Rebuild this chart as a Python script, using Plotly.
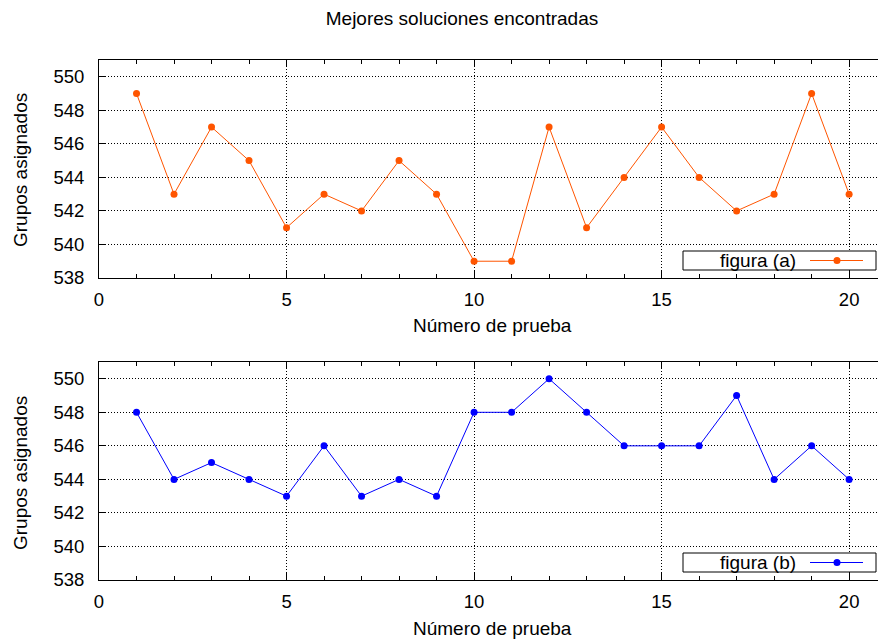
import plotly.graph_objects as go

# ---- data ----
prueba = list(range(1, 21))
figura_a = [549, 543, 547, 545, 541, 543, 542, 545, 543, 539,
            539, 547, 541, 544, 547, 544, 542, 543, 549, 543]
figura_b = [548, 544, 545, 544, 543, 546, 543, 544, 543, 548,
            548, 550, 548, 546, 546, 546, 549, 544, 546, 544]
y_ticks = [538, 540, 542, 544, 546, 548, 550]
x_ticks = [0, 5, 10, 15, 20]
series_names = ["figura (a)", "figura (b)"]
colors = ["#ff5500", "#0000ff"]

TITLE = "Mejores soluciones encontradas"
XLABEL = "Número de prueba"
YLABEL = "Grupos asignados"

FONT = "Liberation Sans, Arial, sans-serif"
FS = 19
FST = 18.5

W, H = 878, 639
ML, MR, MT, MB = 99, 0, 60, 59
PW, PH = W - ML - MR, H - MT - MB
BOT = H - MB


def xp(px):
    return (px - ML) / PW


def yp(py):
    return (BOT - py) / PH


fig = go.Figure()

dom_top = [yp(278), 1.0]
dom_bot = [0.0, yp(362)]

fig.add_trace(go.Scatter(x=prueba, y=figura_a, mode="lines+markers",
                         name=series_names[0], xaxis="x", yaxis="y",
                         line=dict(color=colors[0], width=1),
                         marker=dict(color=colors[0], size=7),
                         showlegend=False))
fig.add_trace(go.Scatter(x=prueba, y=figura_b, mode="lines+markers",
                         name=series_names[1], xaxis="x2", yaxis="y2",
                         line=dict(color=colors[1], width=1),
                         marker=dict(color=colors[1], size=7),
                         showlegend=False))

xax = dict(range=[0, 20.77], tickvals=x_ticks, ticks="inside", ticklen=7,
           tickwidth=1, tickcolor="black", showline=True, linecolor="black",
           linewidth=1, mirror="ticks", zeroline=False, showgrid=True,
           gridcolor="black", griddash="1px,2px", gridwidth=1,
           minor=dict(dtick=1, tick0=0, ticks="inside", ticklen=4,
                      tickcolor="black", showgrid=False),
           tickfont=dict(family=FONT, size=FST, color="black"),
           ticklabelstandoff=5)
yax = dict(range=[538, 551], tickvals=y_ticks, ticks="inside", ticklen=7,
           tickwidth=1, tickcolor="black", showline=True, linecolor="black",
           linewidth=1, zeroline=False, showgrid=True, gridcolor="black",
           griddash="1px,2px", gridwidth=1,
           tickfont=dict(family=FONT, size=FST, color="black"),
           ticklabelstandoff=10)

fig.update_layout(
    width=W, height=H,
    margin=dict(l=ML, r=MR, t=MT, b=MB),
    paper_bgcolor="white", plot_bgcolor="white",
    font=dict(family=FONT, size=FS, color="black"),
    xaxis=dict(**xax, anchor="y", domain=[0, 1]),
    yaxis=dict(**yax, anchor="x", domain=dom_top),
    xaxis2=dict(**xax, anchor="y2", domain=[0, 1]),
    yaxis2=dict(**yax, anchor="x2", domain=dom_bot),
    title=dict(text=TITLE, x=462 / W, xref="container", xanchor="center",
               y=1 - 18 / H, yref="container", yanchor="middle",
               font=dict(family=FONT, size=FS, color="black")),
    showlegend=False,
)

annotations = []
shapes = []
# axis titles
for (xlab_y, ylab_y) in [(325, 170), (628, 473)]:
    annotations.append(dict(text=XLABEL, x=xp(493), y=yp(xlab_y), xref="paper",
                            yref="paper", showarrow=False, xanchor="center",
                            yanchor="middle", font=dict(family=FONT, size=FS)))
    annotations.append(dict(text=YLABEL, x=xp(20), y=yp(ylab_y), xref="paper",
                            yref="paper", showarrow=False, xanchor="center",
                            yanchor="middle", textangle=-90,
                            font=dict(family=FONT, size=FS)))

# legend boxes (gnuplot style: text left, sample right)
for name, col, (y0, y1) in zip(series_names, colors, [(251, 270), (553, 572)]):
    yc = (y0 + y1) / 2
    shapes.append(dict(type="rect", xref="paper", yref="paper",
                       x0=xp(683), x1=xp(876), y0=yp(y1), y1=yp(y0),
                       line=dict(color="black", width=1), fillcolor="white",
                       layer="above"))
    shapes.append(dict(type="line", xref="paper", yref="paper",
                       x0=xp(810), x1=xp(863), y0=yp(yc), y1=yp(yc),
                       line=dict(color=col, width=1), layer="above"))
    shapes.append(dict(type="circle", xref="paper", yref="paper",
                       x0=xp(833.5), x1=xp(840.5), y0=yp(yc + 3.5),
                       y1=yp(yc - 3.5), line=dict(color=col, width=0),
                       fillcolor=col, layer="above"))
    annotations.append(dict(text=name, x=xp(798), y=yp(yc), xref="paper",
                            yref="paper", showarrow=False, xanchor="right",
                            yanchor="middle", font=dict(family=FONT, size=FS)))

fig.update_layout(annotations=annotations, shapes=shapes)

fig.write_html("out.html")
